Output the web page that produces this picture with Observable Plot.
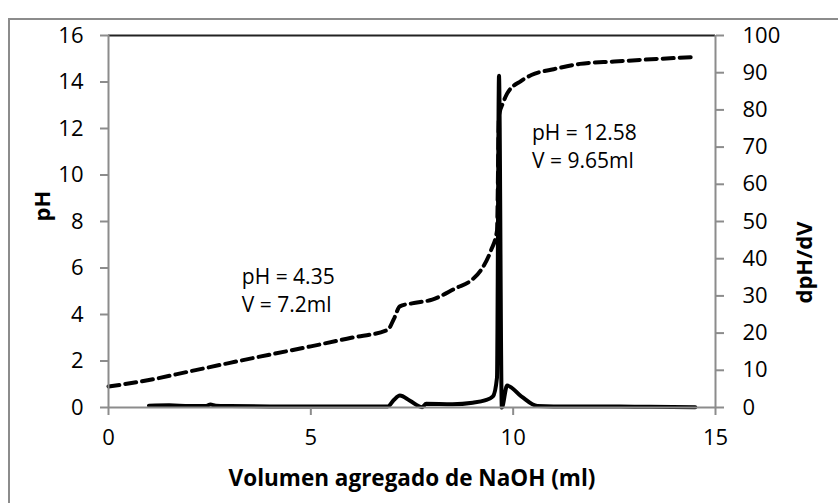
<!DOCTYPE html>
<html>
<head>
<meta charset="utf-8">
<script src="https://cdn.jsdelivr.net/npm/d3@7"></script>
<script src="https://cdn.jsdelivr.net/npm/@observablehq/plot@0.6"></script>
<style>
  html, body { margin: 0; padding: 0; background: white; overflow: hidden; }
  #wrap { position: relative; width: 838px; height: 503px; }
  #border { position: absolute; left: 8px; top: 18px; width: 900px; height: 600px; border: 2px solid #8c8c8c; box-sizing: border-box; }
  #chart { position: absolute; left: 0; top: 0; }
</style>
</head>
<body>
<div id="wrap"><div id="border"></div><div id="chart"></div></div>
<script>
// pH titration curve (dashed, left axis)
const phVolume = [0, 1, 2, 3, 4, 5, 6, 6.9, 7.05, 7.2, 7.5, 8, 8.6, 8.95, 9.2, 9.45, 9.6, 9.65, 9.75, 9.85, 10.2, 10.45, 11, 11.65, 12.5, 13.15, 14.5];
const phValues = [0.9, 1.18, 1.55, 1.92, 2.28, 2.63, 3.0, 3.34, 3.8, 4.35, 4.48, 4.64, 5.15, 5.45, 5.9, 6.75, 7.6, 12.58, 13.1, 13.5, 14.05, 14.3, 14.55, 14.78, 14.88, 14.95, 15.08];

// first derivative (solid, right axis)
const dVolume = [1.0, 1.5, 2.0, 2.4, 2.52, 2.65, 3, 4, 5, 6, 6.9, 7.05, 7.2, 7.45, 7.75, 7.85, 8.5, 9.0, 9.3, 9.5, 9.6, 9.65, 9.72, 9.85, 10.2, 10.6, 11, 12, 13, 14.5];
const dValues = [0.5, 0.6, 0.4, 0.4, 0.8, 0.5, 0.4, 0.3, 0.3, 0.3, 0.3, 2.0, 3.2, 1.8, 0.1, 1.0, 0.9, 1.3, 1.9, 3.0, 8.0, 89.2, 0.0, 5.9, 3.0, 0.4, 0.3, 0.3, 0.2, 0.1];

const xDomain = [0, 15];
const phDomain = [0, 16];
const dDomain = [0, 100];
const xTicks = [0, 5, 10, 15];
const phTicks = [0, 2, 4, 6, 8, 10, 12, 14, 16];
const dTicks = [0, 10, 20, 30, 40, 50, 60, 70, 80, 90, 100];

const annotations = [
  {v: 7.2, ph: 4.35, label: "pH = 4.35\nV = 7.2ml"},
  {v: 9.65, ph: 12.58, label: "pH = 12.58\nV = 9.65ml"}
];

const k = (phDomain[1] - phDomain[0]) / (dDomain[1] - dDomain[0]);
const phData = phVolume.map((v, i) => ({v, y: phValues[i]}));
const dData = dVolume.map((v, i) => ({v, y: dValues[i] * k}));

const axisGrey = "#8c8c8c";

const chart = Plot.plot({
  width: 838,
  height: 503,
  marginLeft: 108,
  marginRight: 123,
  marginTop: 35,
  marginBottom: 96,
  x: {domain: xDomain},
  y: {domain: phDomain},
  style: {fontFamily: "'Open Sans', sans-serif", fontSize: "22px", background: "transparent", color: "black"},
  marks: [
    Plot.ruleY([phDomain[1]], {stroke: "#222", strokeWidth: 2}),
    Plot.line(phData, {x: "v", y: "y", stroke: "black", strokeWidth: 4, strokeDasharray: "11,6", curve: "monotone-x"}),
    Plot.line(dData, {x: "v", y: "y", stroke: "black", strokeWidth: 4, curve: "monotone-x", strokeLinejoin: "round", strokeLinecap: "round"}),
    Plot.ruleX(xDomain, {stroke: axisGrey, strokeWidth: 2}),
    Plot.ruleY([phDomain[0]], {stroke: axisGrey, strokeWidth: 2}),
    Plot.axisX({ticks: xTicks, tickSize: 8, tickPadding: 14, stroke: axisGrey, strokeWidth: 2, fill: "black", label: null, fontSize: 22}),
    Plot.axisY({anchor: "left", ticks: phTicks, tickSize: 8, tickPadding: 17, stroke: axisGrey, strokeWidth: 2, fill: "black", label: null, fontSize: 22}),
    Plot.axisY({anchor: "right", ticks: dTicks.map(d => d * k), tickFormat: d => String(Math.round(d / k)), tickSize: 8, tickPadding: 19, stroke: axisGrey, strokeWidth: 2, fill: "black", label: null, fontSize: 22}),
    Plot.text([annotations[0]], {x: "v", y: "ph", text: "label", textAnchor: "start", lineAnchor: "middle", lineHeight: 1.3, dx: -158, dy: -17, fontSize: 21, fill: "black"}),
    Plot.text([annotations[1]], {x: "v", y: "ph", text: "label", textAnchor: "start", lineAnchor: "middle", lineHeight: 1.33, dx: 33, dy: 30, fontSize: 21, fill: "black"}),
    Plot.text(["pH"], {frameAnchor: "left", dx: -66, rotate: -90, fontWeight: "bold", fontSize: 22, fill: "black"}),
    Plot.text(["dpH/dV"], {frameAnchor: "right", dx: 89, rotate: -90, fontWeight: "bold", fontSize: 22, fill: "black"}),
    Plot.text(["Volumen agregado de NaOH (ml)"], {frameAnchor: "bottom", dy: 78, fontWeight: "bold", fontSize: 22.5, fill: "black"})
  ]
});
document.getElementById("chart").appendChild(chart);
</script>
</body>
</html>
